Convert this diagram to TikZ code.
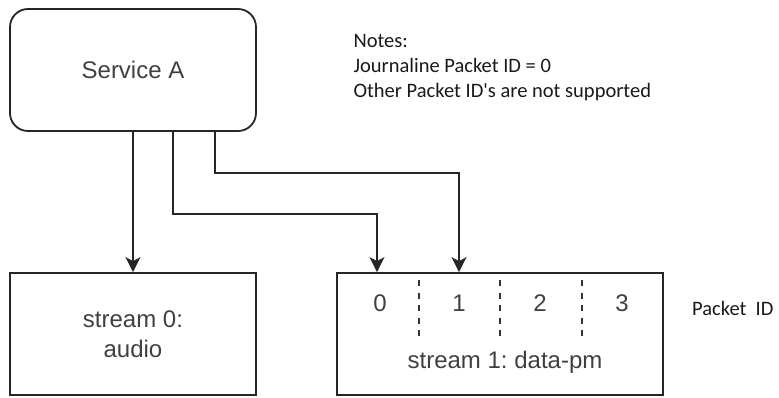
\documentclass[tikz,border=0pt]{standalone}
\usepackage{fontspec}
\setmainfont{Liberation Sans}
\newfontfamily\notesfont{Carlito}
\usetikzlibrary{arrows.meta,positioning}
\frenchspacing

\begin{document}
\begin{tikzpicture}[
		x=1pt, y=-1pt,
		box/.style={draw=black!85, line width=1.8pt, inner sep=0pt, minimum height=122pt,
			text=black!75, font=\fontsize{24}{30}\selectfont, align=center},
		link/.style={line width=1.8pt, draw=black!85, -{Stealth[length=15pt,width=15pt,inset=4pt]}},
		divider/.style={line width=2pt, draw=black!80, dash pattern=on 6pt off 6.5pt},
		digit/.style={text=black!75, font=\fontsize{24}{30}\selectfont},
		note/.style={font=\notesfont\fontsize{20.5}{25}\selectfont, text=black!90, anchor=base west},
	]
		\useasboundingbox (0,0) rectangle (779,397);

		\node[box, rounded corners=18pt, minimum width=246pt] (service) at (133,70) {Service A};
		\node[box, minimum width=246pt] (stream0) at (133,334) {stream 0:\\audio};
		\node[box, minimum width=326pt] (stream1) at (500,334) {};

		\node[digit] (p0) at (380,303) {0};
		\node[digit] (p1) at (459,303) {1};
		\node[digit] (p2) at (540,303) {2};
		\node[digit] (p3) at (622,303) {3};
		\node[digit] (label1) at (505,362) {stream 1: data-pm};

		\draw[divider] (418.5,280) -- (418.5,337);
		\draw[divider] (500,280) -- (500,337);
		\draw[divider] (581.5,280) -- (581.5,337);

		\node[note] (notes) at (350,47) {Notes:};
		\node[note] (journaline) at (350,72) {Journaline Packet ID = 0};
		\node[note] (others) at (350,97) {Other Packet ID's are not supported};
		\node[note, anchor=base east] (pktid) at (777,315) {Packet\ \ ID};

		\draw[link] (service.south) -- (stream0.north);
		\draw[link] ([xshift=40pt]service.south) -- ++(0,82) -| ([xshift=-3pt]p0 |- stream1.north);
		\draw[link] ([xshift=82pt]service.south) -- ++(0,41) -| (p1 |- stream1.north);
	\end{tikzpicture}
\end{document}
